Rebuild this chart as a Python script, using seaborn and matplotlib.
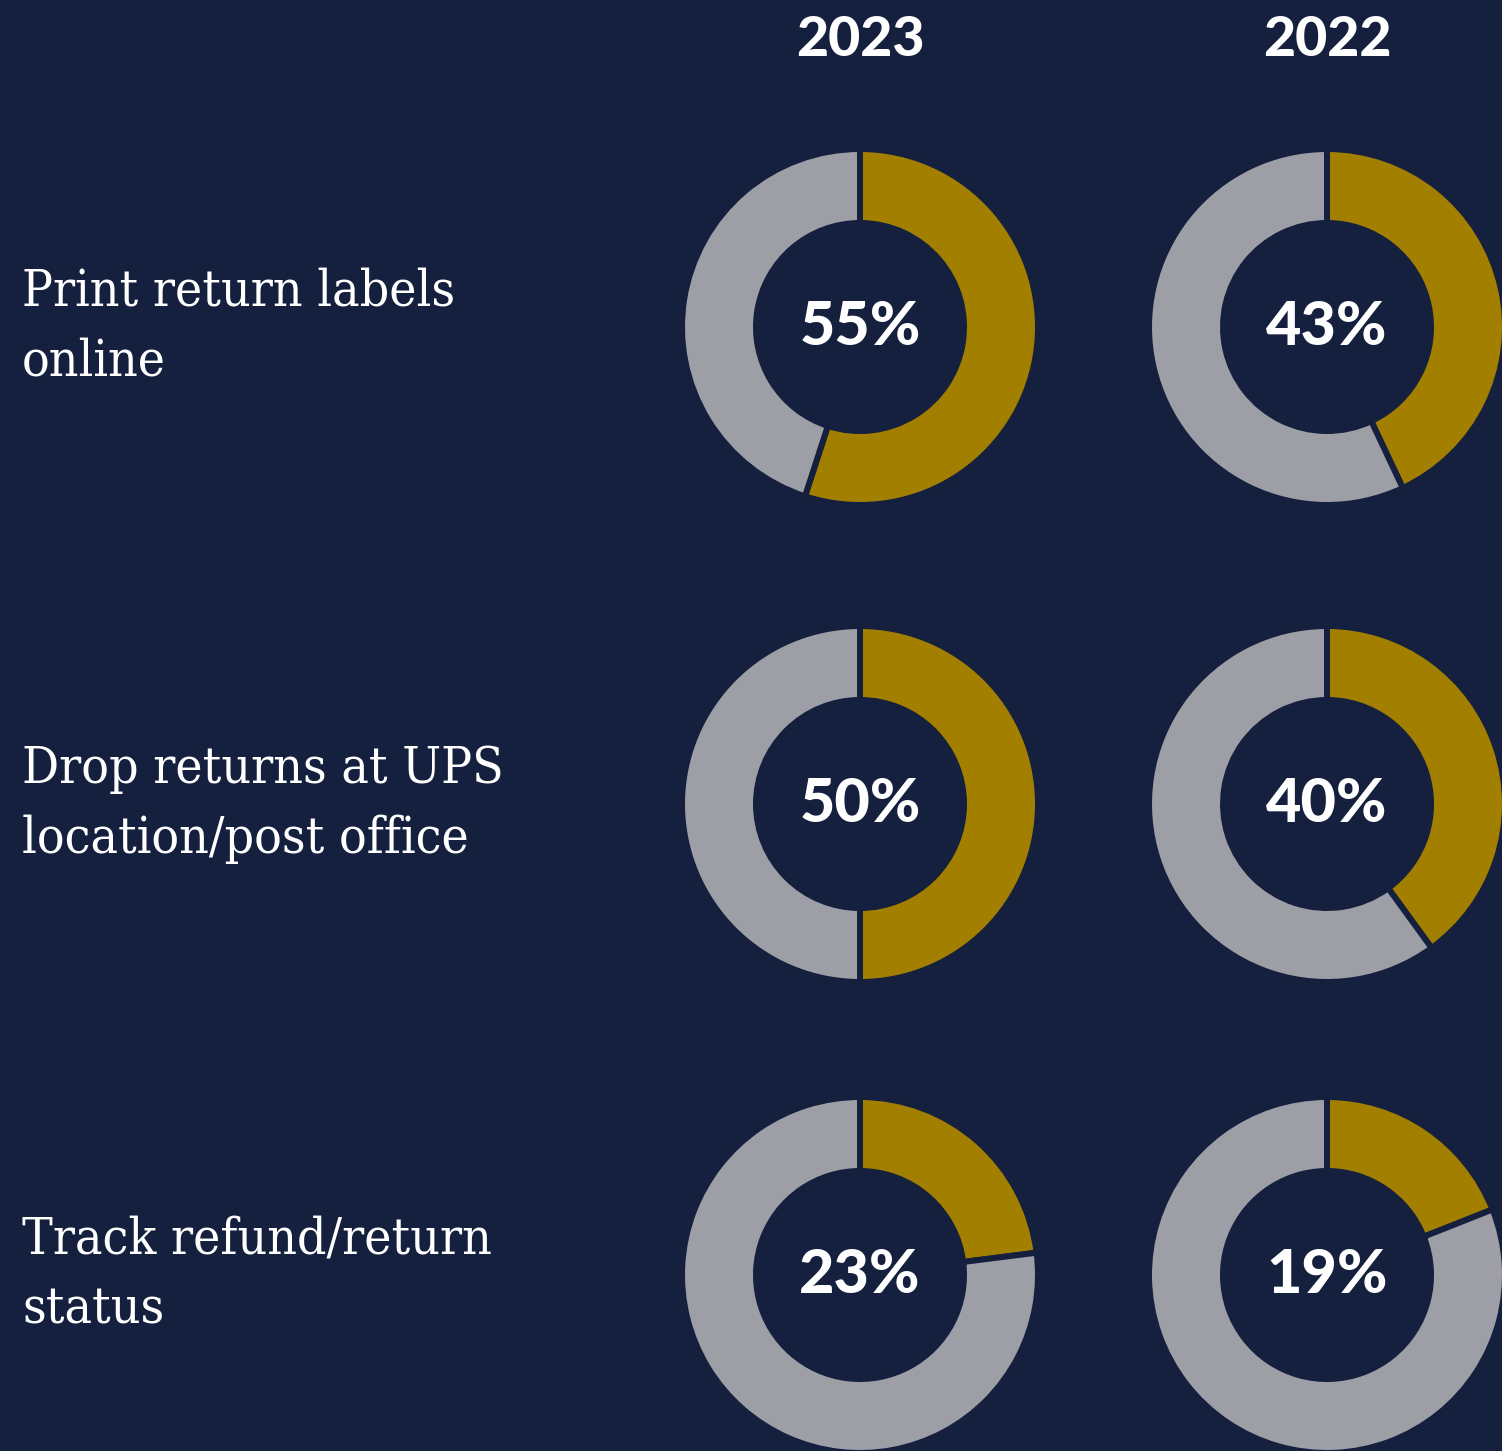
import matplotlib
matplotlib.use("Agg")
import matplotlib.pyplot as plt
import seaborn as sns

# Share of shoppers doing each returns task, by survey year
tasks = ["Print return labels\nonline",
         "Drop returns at UPS\nlocation/post office",
         "Track refund/return\nstatus"]
years = ["2023", "2022"]
share_2023 = [55, 50, 23]
share_2022 = [43, 40, 19]

BG = "#14203d"
GOLD = "#a37f00"
GREY = "#9e9ea7"
W, H = 1502, 1451

sns.set_theme(style="white")
plt.rcParams["font.family"] = ["DejaVu Sans"]

fig = plt.figure(figsize=(W / 100, H / 100), dpi=100, facecolor=BG)
ax = fig.add_axes([0, 0, 1, 1], facecolor=BG)

col_x = [860, 1327]          # donut centres (pixels from left)
row_y = [327, 804, 1275]     # donut centres (pixels from top)
r_out, r_in = 175, 107
gap_px = 6
lw_pt = gap_px * 72 / 100

num_font = ["Lato", "DejaVu Sans"]

for ci, (year, shares) in enumerate(zip(years, [share_2023, share_2022])):
    cx = col_x[ci]
    ax.text(cx, H - 40, year, ha="center", va="center", color="white",
            fontsize=40, fontweight=900, family=num_font)
    for ri, val in enumerate(shares):
        cy = H - row_y[ri]
        ax.pie([val, 100 - val], colors=[GOLD, GREY], startangle=90,
               counterclock=False, center=(cx, cy),
               radius=r_out + gap_px / 2,
               wedgeprops=dict(width=(r_out - r_in) + gap_px,
                               edgecolor=BG, linewidth=lw_pt,
                               joinstyle="round"))
        ax.text(cx, cy, f"{val}%", ha="center", va="center", color="white",
                fontsize=44, fontweight=900, family=num_font)

for ri, task in enumerate(tasks):
    ax.text(22, H - row_y[ri], task, ha="left", va="center", color="white",
            fontsize=37, family=["DejaVu Serif"], fontstretch="condensed",
            linespacing=1.54)

ax.set_xlim(0, W)
ax.set_ylim(0, H)
ax.set_aspect("auto")
ax.axis("off")

fig.savefig("out.png", dpi=100, facecolor=BG)
